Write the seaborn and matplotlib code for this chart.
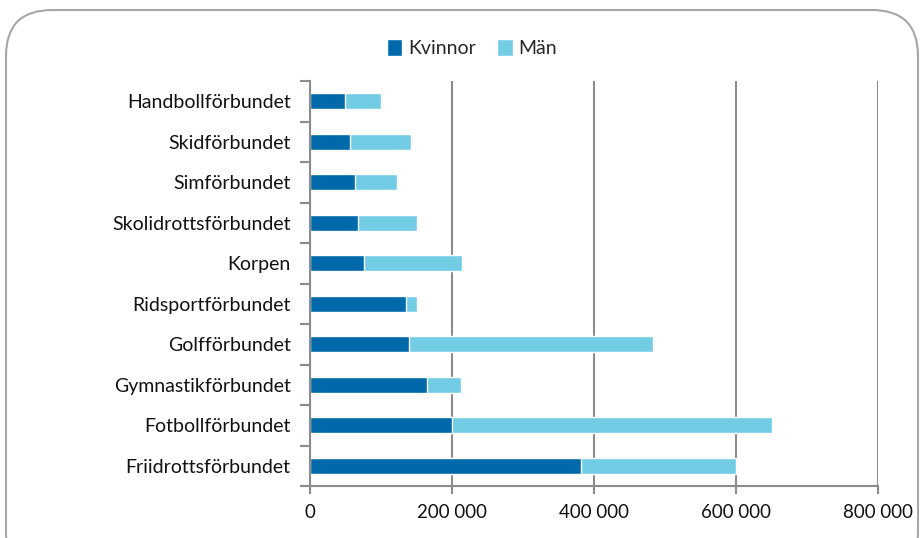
import matplotlib
matplotlib.use("Agg")
import matplotlib.pyplot as plt
import seaborn as sns
import pandas as pd
import numpy as np
from matplotlib.patches import FancyBboxPatch, Patch
from matplotlib.ticker import FuncFormatter, FixedLocator

categories = ["Handbollförbundet", "Skidförbundet", "Simförbundet", "Skolidrottsförbundet",
              "Korpen", "Ridsportförbundet", "Golfförbundet", "Gymnastikförbundet",
              "Fotbollförbundet", "Friidrottsförbundet"]
kvinnor = [49000, 57000, 63000, 68000, 76000, 135000, 140000, 165000, 200000, 381000]
man = [51000, 85000, 59000, 83000, 138000, 16000, 343000, 48000, 450000, 219000]
xticks = [0, 200000, 400000, 600000, 800000]

dark = "#0069AA"
light = "#72CDE4"
grey = "#8C8C8C"

sns.set_theme(style="white")
plt.rcParams['font.family'] = ['Lato', 'DejaVu Sans']

df = pd.DataFrame({"kategori": categories, "Kvinnor": kvinnor, "Män": man})
df["total"] = df["Kvinnor"] + df["Män"]

W, H = 921, 538
fig = plt.figure(figsize=(W / 100, H / 100), dpi=100)
ax = fig.add_axes([310 / W, 1 - 486 / H, (878 - 310) / W, (486 - 81) / H])

sns.barplot(data=df, y="kategori", x="total", color=light, orient="h", width=0.39,
            saturation=1, ax=ax, zorder=3)
sns.barplot(data=df, y="kategori", x="Kvinnor", color=dark, orient="h", width=0.39,
            saturation=1, ax=ax, zorder=4)

ax.set_xlim(0, 800000)
ax.set_ylim(len(categories) - 0.5, -0.5)
ax.set_xlabel("")
ax.set_ylabel("")
ax.set_xticks(xticks)
ax.xaxis.set_major_formatter(FuncFormatter(lambda v, p: f"{int(v):,}".replace(",", " ")))
ax.grid(axis="x", color=grey, linewidth=1.5, zorder=1)
ax.grid(axis="y", visible=False)
for s in ["top", "right"]:
    ax.spines[s].set_visible(False)
for s in ["left", "bottom"]:
    ax.spines[s].set_color(grey)
    ax.spines[s].set_linewidth(1.5)
    ax.spines[s].set_zorder(5)

ax.tick_params(axis="x", which="major", bottom=True, length=6, width=1.5, color=grey,
               labelsize=13.5, pad=7, labelcolor="#111111")
ax.tick_params(axis="y", which="major", left=False, length=0, labelsize=14, pad=14,
               labelcolor="#111111")
ax.yaxis.set_minor_locator(FixedLocator(np.arange(-0.5, len(categories), 1.0)))
ax.tick_params(axis="y", which="minor", left=True, length=7, width=1.5, color=grey)

handles = [Patch(facecolor=dark, label="Kvinnor"), Patch(facecolor=light, label="Män")]
fig.legend(handles=handles, loc="center", bbox_to_anchor=(472 / W, 1 - 48 / H), ncol=2,
           frameon=False, fontsize=14, handlelength=0.8, handleheight=1.0,
           handletextpad=0.3, columnspacing=1.1)

border = FancyBboxPatch((6 / W, -40 / H), (912 / W), (H - 10 + 40) / H,
                        boxstyle="round,pad=0,rounding_size=0.05",
                        transform=fig.transFigure, facecolor="none",
                        edgecolor="#A6A6A6", linewidth=1.5, mutation_aspect=W / H)
fig.patches.append(border)

fig.savefig("out.png", dpi=100)
